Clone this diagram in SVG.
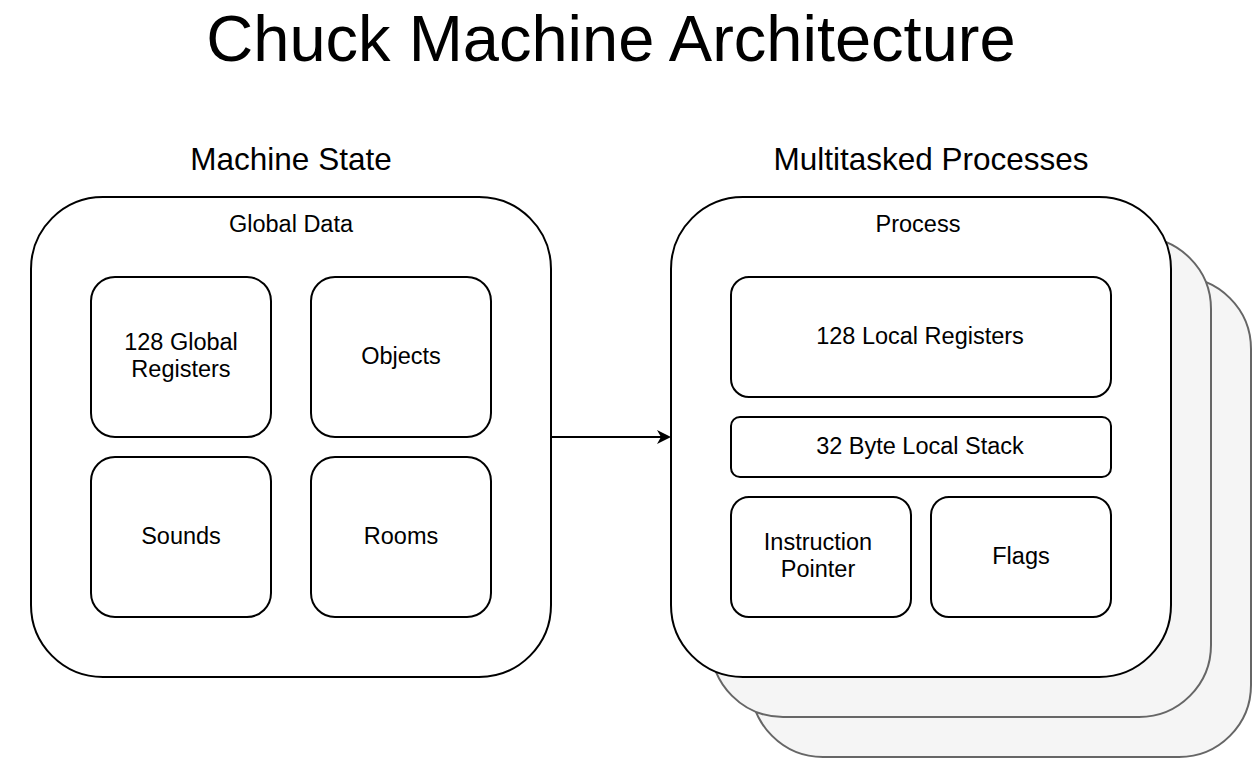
<svg xmlns="http://www.w3.org/2000/svg" width="1254" height="758" viewBox="0 0 1254 758">
<defs>
<style>
text{font-family:"Liberation Sans",Arial,sans-serif;fill:#000;text-anchor:middle}
.box{fill:#fff;stroke:#000;stroke-width:2}
.shadow{fill:#f5f5f5;stroke:#666;stroke-width:2}
.t{font-size:23.5px}
.h{font-size:31.5px}
</style>
<marker id="arr" markerWidth="14" markerHeight="14" refX="12" refY="7" orient="auto" markerUnits="userSpaceOnUse">
<path d="M0,0 L14,7 L0,14 L4,7 Z" fill="#000"/>
</marker>
</defs>
<rect width="1254" height="758" fill="#fff"/>
<text x="611" y="61" style="font-size:65px">Chuck Machine Architecture</text>
<text class="h" x="291" y="170">Machine State</text>
<text class="h" x="931" y="170">Multitasked Processes</text>

<g id="global-data">
<rect class="box" x="31" y="197" width="520" height="480" rx="72"/>
<text class="t" x="291" y="232">Global Data</text>
</g>
<g id="global-registers"><rect class="box" x="91" y="277" width="180" height="160" rx="24"/><text class="t" x="181" y="350">128 Global</text><text class="t" x="181" y="377">Registers</text></g>
<g id="objects"><rect class="box" x="311" y="277" width="180" height="160" rx="24"/><text class="t" x="401" y="364">Objects</text></g>
<g id="sounds"><rect class="box" x="91" y="457" width="180" height="160" rx="24"/><text class="t" x="181" y="544">Sounds</text></g>
<g id="rooms"><rect class="box" x="311" y="457" width="180" height="160" rx="24"/><text class="t" x="401" y="544">Rooms</text></g>

<g id="process-stack-3"><rect class="shadow" x="751" y="277" width="500" height="480" rx="72"/></g>
<g id="process-stack-2"><rect class="shadow" x="711" y="237" width="500" height="480" rx="72"/></g>
<g id="process">
<rect class="box" x="671" y="197" width="500" height="480" rx="72"/>
<text class="t" x="918" y="232">Process</text>
</g>
<g id="local-registers"><rect class="box" x="731" y="277" width="380" height="120" rx="18"/><text class="t" x="920" y="344">128 Local Registers</text></g>
<g id="local-stack"><rect class="box" x="731" y="417" width="380" height="60" rx="9"/><text class="t" x="920" y="454">32 Byte Local Stack</text></g>
<g id="instruction-pointer"><rect class="box" x="731" y="497" width="180" height="120" rx="18"/><text class="t" x="818" y="550">Instruction</text><text class="t" x="818" y="577">Pointer</text></g>
<g id="flags"><rect class="box" x="931" y="497" width="180" height="120" rx="18"/><text class="t" x="1021" y="564">Flags</text></g>

<g id="connectors">
<line x1="551" y1="437" x2="669" y2="437" stroke="#000" stroke-width="2" marker-end="url(#arr)"/>
</g>
</svg>
